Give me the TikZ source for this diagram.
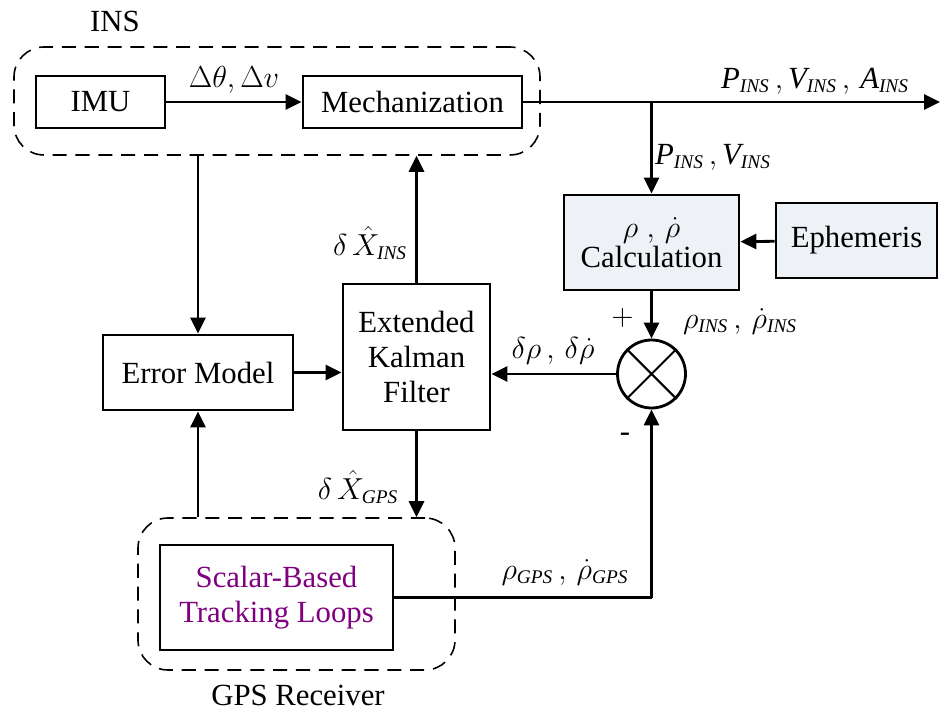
\documentclass[tikz,border=0pt]{standalone}
\usepackage{fontspec}
\newfontfamily\serifmain{Liberation Serif}
\usetikzlibrary{arrows.meta}
\definecolor{boxfill}{HTML}{EEF2F7}
\definecolor{loopcol}{HTML}{800080}
\newcommand{\sub}[1]{\hbox{\serifmain\fontsize{11}{12}\selectfont\itshape #1}}
\newcommand{\vit}[1]{\hbox{\serifmain\itshape #1}}
\begin{document}
\begin{tikzpicture}[font=\serifmain\fontsize{17.5}{20}\selectfont,
        blk/.style={draw, line width=1.6pt, align=center, inner sep=2pt},
        grp/.style={draw, dashed, line width=0.9pt, rounded corners=0.6cm, dash pattern=on 8pt off 5pt},
        flow/.style={line width=1.6pt, -{Triangle[length=0.32cm, width=0.3cm]}},
        wire/.style={line width=1.6pt}]
        \useasboundingbox (0,0) rectangle (18.82,-14.24);

        \node[grp, minimum width=10.52cm, minimum height=2.16cm] (insbox) at (5.54,-2.02) {};
        \node (inslabel) at (2.30,-0.42) {INS};
        \node[blk, minimum width=2.58cm, minimum height=1.04cm] (imu) at (2.01,-2.04) {IMU};
        \node[blk, minimum width=4.38cm, minimum height=1.04cm] (mech) at (8.25,-2.04) {Mechanization};

        \node[blk, fill=boxfill, minimum width=3.5cm, minimum height=1.9cm] (calc) at (13.03,-4.85) {$\rho\;,\,\dot{\rho}$\\[-3pt]Calculation};
        \node[blk, fill=boxfill, minimum width=3.22cm, minimum height=1.5cm] (eph) at (17.13,-4.81) {Ephemeris};
        \node[draw, circle, line width=1.6pt, minimum size=1.36cm, inner sep=0pt] (sum) at (13.03,-7.48) {};
        \draw[line width=1.2pt] (sum.45) -- (sum.225) (sum.135) -- (sum.315);

        \node[blk, minimum width=2.94cm, minimum height=2.92cm] (ekf) at (8.33,-7.14) {Extended\\Kalman\\Filter};
        \node[blk, minimum width=3.8cm, minimum height=1.5cm] (em) at (3.96,-7.45) {Error Model};

        \node[grp, minimum width=6.34cm, minimum height=3.04cm] (gpsbox) at (5.93,-11.88) {};
        \node[blk, text=loopcol, minimum width=4.66cm, minimum height=2.1cm] (trk) at (5.53,-11.95) {Scalar-Based\\Tracking Loops};
        \node (gpslabel) at (5.96,-13.90) {GPS Receiver};

        \coordinate (out) at (18.80,-2.04);
        \coordinate (branch) at (13.03,-2.04);
        \coordinate (corner) at (13.03,-11.95);

        % INS part
        \draw[flow] (imu) -- (mech) node[midway, above=1pt] {$\Delta\theta,\Delta v$};
        \draw[flow] (mech) -- (out);
        \node (pva) at (16.3,-1.62) {$\vit{P}_{\sub{INS}}\,,\vit{V}_{\sub{INS}}\,,\,\vit{A}_{\sub{INS}}$};
        \draw[flow] (branch) -- (calc.north);
        \node (pv) at (14.26,-3.14) {$\vit{P}_{\sub{INS}}\,,\vit{V}_{\sub{INS}}$};

        % measurement difference
        \draw[flow] (eph) -- (calc);
        \draw[flow] (calc) -- (sum.north);
        \node (rhoins) at (14.8,-6.42) {$\rho_{\sub{INS}}\,,\,\dot{\rho}_{\sub{INS}}$};
        \node (plus) at (12.45,-6.36) {$+$};
        \node (minus) at (12.5,-8.74) {-};
        \draw[flow] (sum.west) -- (sum.west -| ekf.east);
        \node (drho) at (11.06,-7.02) {$\delta\rho\,,\,\delta\dot{\rho}$};

        % filter loop
        \draw[flow] (em.north |- insbox.south) -- (em.north);
        \draw[flow] (em.east) -- (em.east -| ekf.west);
        \draw[flow] (ekf.north) -- (ekf.north |- insbox.south);
        \node (dxins) at (7.4,-4.86) {$\delta\,\hat{X}_{\sub{INS}}$};
        \draw[flow] (ekf.south) -- (ekf.south |- gpsbox.north);
        \node (dxgps) at (7.16,-9.74) {$\delta\,\hat{X}_{\sub{GPS}}$};
        \draw[flow] (em.south |- gpsbox.north) -- (em.south);
        \draw[wire] (trk.east) -- (corner);
        \draw[flow] (corner) -- (sum.south);
        \node (rhogps) at (11.3,-11.44) {$\rho_{\sub{GPS}}\,,\,\dot{\rho}_{\sub{GPS}}$};
\end{tikzpicture}
\end{document}
